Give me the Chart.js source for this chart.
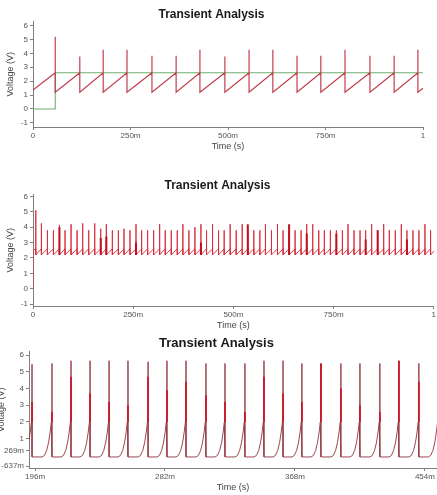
<!DOCTYPE html>
<html>
<head>
<meta charset="utf-8">
<script src="https://cdn.jsdelivr.net/npm/chart.js@4.4.0/dist/chart.umd.min.js"></script>
<style>
  html, body { margin: 0; padding: 0; background: #fff; }
  body { width: 437px; height: 495px; position: relative; overflow: hidden; }
  .box { position: absolute; left: 0; width: 437px; }
</style>
</head>
<body>
<div class="box" style="top:0;height:155px"><canvas id="c1"></canvas></div>
<div class="box" style="top:170px;height:162px"><canvas id="c2"></canvas></div>
<div class="box" style="top:332px;height:163px;left:-4px;width:441px"><canvas id="c3"></canvas></div>
<script>
// ---- chart 1 : 0..1 s, sawtooth + step source ----
const xTicks1 = [0, 0.25, 0.5, 0.75, 1];
const xLabels1 = ['0', '250m', '500m', '750m', '1'];
const yTicks1 = [-1, 0, 1, 2, 3, 4, 5, 6];
const sawTimes = [0.057, 0.120, 0.180, 0.241, 0.305, 0.367, 0.428, 0.492, 0.554, 0.615, 0.677, 0.738, 0.800, 0.864, 0.926, 0.987];
const sawPeaks = [5.2, 3.77, 4.26, 4.26, 3.82, 3.82, 4.26, 3.77, 4.26, 4.26, 3.82, 3.82, 4.26, 3.82, 3.82, 4.26];
const sawStart = [0, 1.37];
const sawEnd = [1, 1.49];
const sawHigh = 2.6;
const sawLow = 1.2;
const stepTimes = [0, 0.057, 0.057, 1];
const stepValues = [0, 0, 2.6, 2.6];

// ---- chart 2 : 0..1 s, fast pulses ----
const xTicks2 = [0, 0.25, 0.5, 0.75, 1];
const xLabels2 = ['0', '250m', '500m', '750m', '1'];
const yTicks2 = [-1, 0, 1, 2, 3, 4, 5, 6];
const pulseTimes2 = [0.007, 0.021, 0.036, 0.051, 0.066, 0.080, 0.095, 0.110, 0.124, 0.139,
  0.154, 0.169, 0.183, 0.198, 0.213, 0.227, 0.242, 0.257, 0.271, 0.286,
  0.301, 0.316, 0.330, 0.345, 0.360, 0.374, 0.389, 0.404, 0.419, 0.433,
  0.448, 0.463, 0.477, 0.492, 0.507, 0.522, 0.536, 0.551, 0.566, 0.580,
  0.595, 0.610, 0.624, 0.639, 0.654, 0.669, 0.683, 0.698, 0.713, 0.727,
  0.742, 0.757, 0.772, 0.786, 0.801, 0.816, 0.830, 0.845, 0.860, 0.875,
  0.889, 0.904, 0.919, 0.933, 0.948, 0.963, 0.978, 0.992];
const pulsePeaks2 = [5.1, 4.25, 3.8, 3.8, 4.15, 3.8, 4.2, 3.8, 4.25, 3.8,
  4.25, 3.9, 4.2, 3.8, 3.8, 3.9, 3.8, 4.2, 3.8, 3.8,
  3.8, 4.2, 3.8, 3.8, 3.8, 4.2, 3.8, 4.0, 4.2, 3.8,
  4.2, 3.8, 3.8, 4.2, 3.8, 4.2, 3.8, 3.8, 3.8, 4.2,
  3.8, 4.2, 3.8, 3.8, 3.8, 3.8, 4.2, 4.2, 3.8, 3.8,
  3.8, 3.8, 3.8, 4.2, 3.8, 3.8, 3.8, 4.2, 3.8, 4.2,
  3.8, 3.8, 4.2, 3.8, 3.8, 3.8, 4.2, 3.8];
const darkIdx2 = [4, 11, 12, 17, 28, 36, 43, 46, 51, 56, 58, 63];
const darkTops2 = [4.0, 3.3, 3.4, 3.0, 3.0, 4.2, 4.2, 3.6, 3.6, 3.2, 3.8, 3.2];
const rampHigh2 = 2.6;
const rampLow2 = 2.2;

// ---- chart 3 : zoom 192m..462m ----
const xTicks3 = [0.196, 0.282, 0.368, 0.454];
const xLabels3 = ['196m', '282m', '368m', '454m'];
const yTicks3 = [-0.637, 0.269, 1, 2, 3, 4, 5, 6];
const yLabels3 = ['-637m', '269m', '1', '2', '3', '4', '5', '6'];
const pulseTimes3 = [0.1940, 0.2072, 0.2198, 0.2324, 0.2450, 0.2575, 0.2708, 0.2833, 0.2959, 0.3091,
  0.3217, 0.3349, 0.3475, 0.3601, 0.3726, 0.3852, 0.3984, 0.4110, 0.4242, 0.4368, 0.4500, 0.4628];
const pulsePeaks3 = [5.45, 5.5, 5.66, 5.66, 5.66, 5.66, 5.6, 5.66, 5.66, 5.5,
  5.5, 5.5, 5.66, 5.66, 5.5, 5.5, 5.5, 5.5, 5.5, 5.66, 5.5, 5.5];
const darkTops3 = [3.2, 2.6, 4.7, 3.7, 3.2, 3.0, 4.7, 3.9, 4.4, 3.6,
  3.2, 2.6, 4.7, 3.7, 3.2, 5.5, 4.0, 3.0, 2.6, 5.66, 4.4, 2.6];
const riseOffsets3 = [-0.0066, -0.0050, -0.0035, -0.0022, -0.0012, -0.0004, 0];
const riseLevels3 = [-0.09, 0.0, 0.3, 0.8, 1.4, 2.0, 2.3];
const baseLevel3 = -0.09;
const darkLow3 = 2.0;

const fontFam = "'Liberation Sans', Arial, sans-serif";

function axis(title, min, max, vals, labels, isX, size, titlePad) {
  return {
    type: 'linear',
    min: min,
    max: max,
    afterBuildTicks: s => { s.ticks = vals.map(v => ({ value: v })); },
    afterFit: s => { if (isX) s.height = size; else s.width = size; },
    border: { display: true, color: '#808080', width: 1 },
    grid: { display: true, drawOnChartArea: false, drawTicks: true, tickLength: 3, color: '#808080' },
    ticks: {
      autoSkip: false, maxRotation: 0, padding: isX ? 1 : 2,
      color: '#555', font: { family: fontFam, size: 8 },
      callback: (v, i) => labels ? labels[i] : String(vals[i])
    },
    title: { display: true, text: title, color: '#444', font: { family: fontFam, size: 9 }, padding: titlePad }
  };
}

function baseOptions(titleSize, titlePad, layoutPad, scales) {
  return {
    responsive: true,
    maintainAspectRatio: false,
    animation: false,
    events: [],
    layout: { padding: layoutPad },
    plugins: {
      legend: { display: false },
      tooltip: { enabled: false },
      title: {
        display: true, text: 'Transient Analysis', color: '#1a1a1a',
        font: { family: fontFam, size: titleSize, weight: 'bold' },
        padding: titlePad
      }
    },
    scales: scales
  };
}

function line(data, color, width) {
  return { data: data, borderColor: color, borderWidth: width, pointRadius: 0, tension: 0, fill: false, spanGaps: false };
}

// chart 1 data
let saw = [{ x: sawStart[0], y: sawStart[1] }];
sawTimes.forEach((t, i) => {
  saw.push({ x: t, y: sawHigh }, { x: t, y: sawPeaks[i] }, { x: t, y: sawLow });
});
saw.push({ x: sawEnd[0], y: sawEnd[1] });
let step = stepTimes.map((t, i) => ({ x: t, y: stepValues[i] }));

new Chart(document.getElementById('c1'), {
  type: 'line',
  data: { datasets: [line(saw, 'rgba(190,52,70,0.95)', 1.2), line(step, '#6fae6f', 1.1)] },
  options: baseOptions(12, { top: 7, bottom: 0 }, { left: 0, right: 14, top: 0, bottom: 3 }, {
    x: axis('Time (s)', 0, 1, xTicks1, xLabels1, true, 25, { top: 0, bottom: 0 }),
    y: axis('Voltage (V)', -1.3, 6.3, yTicks1, null, false, 33, { top: 5, bottom: 0 })
  })
});

// chart 2 data
let fast = [{ x: 0, y: 0 }, { x: 0, y: 2.5 }];
pulseTimes2.forEach((t, i) => {
  fast.push({ x: t, y: rampHigh2 }, { x: t, y: pulsePeaks2[i] }, { x: t, y: rampLow2 });
});
fast.push({ x: 1, y: 2.45 });
let dark2 = [];
darkIdx2.forEach((k, i) => {
  dark2.push({ x: pulseTimes2[k], y: rampLow2 }, { x: pulseTimes2[k], y: darkTops2[i] }, { x: pulseTimes2[k], y: null });
});

new Chart(document.getElementById('c2'), {
  type: 'line',
  data: { datasets: [line(dark2, '#c0101e', 2), line(fast, 'rgba(214,44,60,0.92)', 1)] },
  options: baseOptions(12, { top: 8.5, bottom: 1.4 }, { left: 0, right: 2, top: 0, bottom: 1 }, {
    x: axis('Time (s)', 0, 1, xTicks2, xLabels2, true, 25, { top: 0, bottom: 0 }),
    y: axis('Voltage (V)', -1.12, 6.14, yTicks2, null, false, 33, { top: 5, bottom: 0 })
  })
});

// chart 3 data
let slow = [];
pulseTimes3.forEach((t, i) => {
  riseOffsets3.forEach((o, k) => slow.push({ x: t + o, y: riseLevels3[k] }));
  slow.push({ x: t, y: pulsePeaks3[i] }, { x: t, y: baseLevel3 });
});
let dark3 = [];
pulseTimes3.forEach((t, i) => {
  dark3.push({ x: t, y: darkLow3 }, { x: t, y: darkTops3[i] }, { x: t, y: null });
});

new Chart(document.getElementById('c3'), {
  type: 'line',
  data: { datasets: [line(dark3, '#cc1828', 1.8), line(slow, 'rgba(150,62,72,0.95)', 1)] },
  options: baseOptions(13, { top: 3.5, bottom: 0.6 }, { left: 0, right: 0, top: 0, bottom: 2 }, {
    x: axis('Time (s)', 0.192, 0.462, xTicks3, xLabels3, true, 25, { top: 0, bottom: 0 }),
    y: axis('Voltage (V)', -0.75, 6.2, yTicks3, yLabels3, false, 33, { top: 0, bottom: 0 })
  })
});
</script>
</body>
</html>
